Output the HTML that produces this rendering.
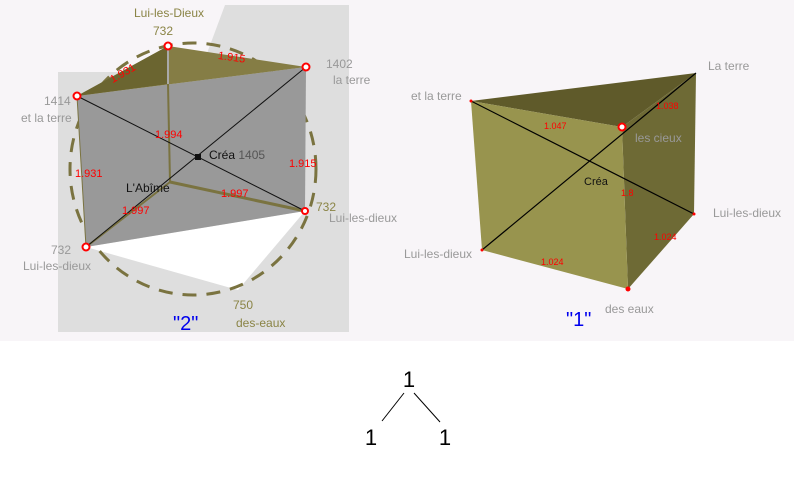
<!DOCTYPE html>
<html><head><style>
body{margin:0;width:794px;height:479px;background:#fff;overflow:hidden}
svg{display:block}
text{font-family:"Liberation Sans",sans-serif}
</style></head><body>
<svg width="794" height="479" viewBox="0 0 794 479">
<rect x="0" y="0" width="794" height="341" fill="#f8f5f8"/>
<polygon points="58,72 200,72 225,5 349,5 349,332 58,332" fill="#dedede"/>
<!-- left diagram -->
<polygon points="86,247 305,211 238,290" fill="#ffffff"/>
<ellipse cx="193" cy="169" rx="123" ry="126" fill="none" stroke="#7a7340" stroke-width="3" stroke-dasharray="14 10"/>
<polygon points="77,96 306,67 305,211 86,247" fill="#999999"/>
<polygon points="77,96 168,46 306,67" fill="#857d45"/>
<polygon points="77,96 168,46 168,84" fill="#6b6530"/>
<line x1="168" y1="46" x2="168" y2="84" stroke="#a9a9a9" stroke-width="2"/>
<line x1="168" y1="84" x2="170" y2="182" stroke="#7a7340" stroke-width="2"/>
<line x1="170" y1="182" x2="305" y2="211" stroke="#7a7340" stroke-width="3"/>
<line x1="170" y1="182" x2="86" y2="247" stroke="#7a7340" stroke-width="2"/>
<line x1="77" y1="96" x2="86" y2="247" stroke="#7a7340" stroke-width="1"/>
<line x1="77" y1="96" x2="305" y2="211" stroke="#111" stroke-width="1"/>
<line x1="306" y1="67" x2="86" y2="247" stroke="#111" stroke-width="1"/>
<rect x="195" y="154" width="6" height="6" fill="#111"/>
<g fill="#fff" stroke="#f00" stroke-width="2">
<circle cx="168" cy="46" r="3.5"/><circle cx="306" cy="67" r="3.5"/><circle cx="77" cy="96" r="3.5"/><circle cx="305" cy="211" r="3"/><circle cx="86" cy="247" r="3.5"/></g>
<g fill="#f00" font-size="11" font-family="Liberation Serif,serif"><text x="108" y="78" transform="rotate(-30 120 72)">1.931</text><text x="218" y="61" transform="rotate(8 233 57)">1.915</text><text x="155" y="138">1.994</text><text x="75" y="177">1.931</text><text x="289" y="167">1.915</text><text x="122" y="214">1.997</text><text x="221" y="197">1.997</text></g>
<g font-size="12"><text x="134" y="17" fill="#8a8445">Lui-les-Dieux</text><text x="153" y="35" fill="#8a8445">732</text>
<text x="326" y="68" fill="#999">1402</text><text x="333" y="84" fill="#999">la terre</text>
<text x="44" y="105" fill="#999">1414</text><text x="21" y="122" fill="#999">et la terre</text>
<text x="209" y="159" fill="#111">Créa <tspan fill="#555">1405</tspan></text>
<text x="126" y="192" fill="#111">L'Abîme</text>
<text x="316" y="211" fill="#8a8445">732</text><text x="329" y="222" fill="#999">Lui-les-dieux</text>
<text x="51" y="254" fill="#999">732</text><text x="23" y="270" fill="#999">Lui-les-dieux</text>
<text x="233" y="309" fill="#8a8445">750</text><text x="236" y="327" fill="#8a8445">des-eaux</text></g>
<text x="173" y="330" fill="#0000ee" font-size="20">"2"</text>
<!-- right diagram -->
<polygon points="471,101 696,73 622,127" fill="#5f5a2a"/>
<polygon points="622,127 696,73 694,214 628,289" fill="#6e6a35"/>
<polygon points="471,101 622,127 628,289 482,250" fill="#98944e"/>
<line x1="471" y1="101" x2="694" y2="214" stroke="#000" stroke-width="1.2"/>
<line x1="482" y1="250" x2="696" y2="73" stroke="#000" stroke-width="1.2"/>
<circle cx="622" cy="127" r="3.5" fill="#fff" stroke="#f00" stroke-width="2"/>
<g fill="#f00"><circle cx="628" cy="289" r="2.5"/><circle cx="471" cy="101" r="1.5"/><circle cx="694" cy="214" r="1.5"/><circle cx="482" cy="250" r="1.5"/></g>
<g fill="#f00" font-size="9"><text x="544" y="129">1.047</text><text x="656" y="109">1.038</text><text x="621" y="196">1.8</text><text x="654" y="240">1.024</text><text x="541" y="265">1.024</text></g>
<g font-size="12" fill="#999"><text x="708" y="70">La terre</text><text x="411" y="100">et la terre</text><text x="635" y="142">les cieux</text><text x="713" y="217">Lui-les-dieux</text><text x="404" y="258">Lui-les-dieux</text><text x="605" y="313">des eaux</text></g>
<text x="584" y="185" font-size="11" fill="#111">Créa</text>
<text x="566" y="326" fill="#0000ee" font-size="20">"1"</text>
<!-- tree -->
<g font-size="22" fill="#000" text-anchor="middle"><text x="409" y="387">1</text><text x="371" y="445">1</text><text x="445" y="445">1</text></g>
<line x1="404" y1="393" x2="382" y2="421" stroke="#000"/><line x1="414" y1="393" x2="440" y2="422" stroke="#000"/>
</svg>
</body></html>
